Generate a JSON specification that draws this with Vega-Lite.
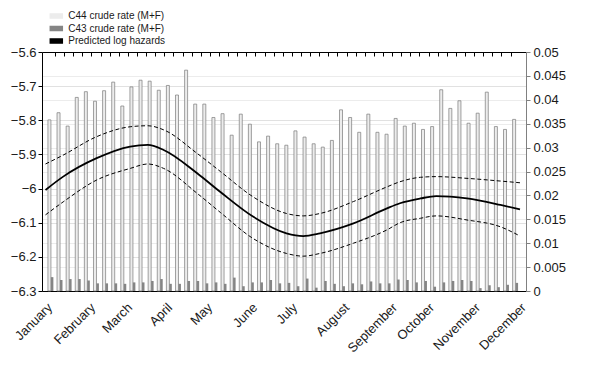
{
  "$schema": "https://vega.github.io/schema/vega-lite/v6.json",
  "width": 484,
  "height": 239,
  "autosize": {"type": "none"},
  "padding": {"left": 42, "top": 52, "right": 71, "bottom": 78},
  "background": "white",
  "config": {
    "view": {"stroke": null},
    "font": "Liberation Sans",
    "axis": {"labelFont": "Liberation Sans", "labelFontSize": 13, "labelColor": "#1a1a1a", "labelOverlap": false}
  },
  "datasets": {
    "bars": [
      {"week":1,"C44":0.0358,"C43":0.0029},{"week":2,"C44":0.0373,"C43":0.0023},{"week":3,"C44":0.0345,"C43":0.0025},{"week":4,"C44":0.0405,"C43":0.0025},
      {"week":5,"C44":0.0417,"C43":0.0022},{"week":6,"C44":0.0397,"C43":0.0016},{"week":7,"C44":0.0419,"C43":0.0016},{"week":8,"C44":0.0437,"C43":0.0016},
      {"week":9,"C44":0.0387,"C43":0.0015},{"week":10,"C44":0.0427,"C43":0.0018},{"week":11,"C44":0.0441,"C43":0.0018},{"week":12,"C44":0.0439,"C43":0.0021},
      {"week":13,"C44":0.0420,"C43":0.0025},{"week":14,"C44":0.0430,"C43":0.0015},{"week":15,"C44":0.0410,"C43":0.0015},{"week":16,"C44":0.0462,"C43":0.0021},
      {"week":17,"C44":0.0391,"C43":0.0021},{"week":18,"C44":0.0391,"C43":0.0016},{"week":19,"C44":0.0363,"C43":0.0018},{"week":20,"C44":0.0371,"C43":0.0015},
      {"week":21,"C44":0.0326,"C43":0.0028},{"week":22,"C44":0.0370,"C43":0.0010},{"week":23,"C44":0.0349,"C43":0.0018},{"week":24,"C44":0.0312,"C43":0.0018},
      {"week":25,"C44":0.0324,"C43":0.0023},{"week":26,"C44":0.0308,"C43":0.0016},{"week":27,"C44":0.0305,"C43":0.0017},{"week":28,"C44":0.0335,"C43":0.0010},
      {"week":29,"C44":0.0322,"C43":0.0026},{"week":30,"C44":0.0308,"C43":0.0007},{"week":31,"C44":0.0301,"C43":0.0021},{"week":32,"C44":0.0315,"C43":0.0015},
      {"week":33,"C44":0.0379,"C43":0.0010},{"week":34,"C44":0.0363,"C43":0.0016},{"week":35,"C44":0.0332,"C43":0.0014},{"week":36,"C44":0.0370,"C43":0.0020},
      {"week":37,"C44":0.0332,"C43":0.0016},{"week":38,"C44":0.0328,"C43":0.0016},{"week":39,"C44":0.0361,"C43":0.0024},{"week":40,"C44":0.0345,"C43":0.0023},
      {"week":41,"C44":0.0351,"C43":0.0018},{"week":42,"C44":0.0338,"C43":0.0021},{"week":43,"C44":0.0344,"C43":0.0009},{"week":44,"C44":0.0421,"C43":0.0018},
      {"week":45,"C44":0.0382,"C43":0.0021},{"week":46,"C44":0.0398,"C43":0.0023},{"week":47,"C44":0.0351,"C43":0.0021},{"week":48,"C44":0.0372,"C43":0.0006},
      {"week":49,"C44":0.0416,"C43":0.0012},{"week":50,"C44":0.0344,"C43":0.0008},{"week":51,"C44":0.0338,"C43":0.0013},{"week":52,"C44":0.0359,"C43":0.0017}
    ],
    "curve": [
      {"week":1,"est":-6.004,"lo":-6.077,"up":-5.928},
      {"week":2.9,"est":-5.965,"lo":-6.039,"up":-5.902},
      {"week":6.5,"est":-5.911,"lo":-5.975,"up":-5.848},
      {"week":10.1,"est":-5.877,"lo":-5.941,"up":-5.819},
      {"week":12,"est":-5.872,"lo":-5.928,"up":-5.816},
      {"week":13.7,"est":-5.887,"lo":-5.941,"up":-5.828},
      {"week":17.3,"est":-5.955,"lo":-6.014,"up":-5.897},
      {"week":19.8,"est":-6.010,"lo":-6.070,"up":-5.950},
      {"week":23.3,"est":-6.082,"lo":-6.146,"up":-6.024},
      {"week":26.9,"est":-6.131,"lo":-6.190,"up":-6.073},
      {"week":28.7,"est":-6.139,"lo":-6.198,"up":-6.080},
      {"week":30.5,"est":-6.131,"lo":-6.190,"up":-6.073},
      {"week":34.1,"est":-6.102,"lo":-6.160,"up":-6.038},
      {"week":37.7,"est":-6.058,"lo":-6.121,"up":-5.995},
      {"week":39.1,"est":-6.043,"lo":-6.100,"up":-5.980},
      {"week":41.3,"est":-6.029,"lo":-6.087,"up":-5.967},
      {"week":43,"est":-6.022,"lo":-6.080,"up":-5.965},
      {"week":46.3,"est":-6.029,"lo":-6.092,"up":-5.970},
      {"week":49.9,"est":-6.048,"lo":-6.112,"up":-5.978},
      {"week":52,"est":-6.061,"lo":-6.139,"up":-5.983}
    ]
  },
  "layer": [
    {
      "data": {"name": "bars"},
      "encoding": {
        "x": {"field": "week", "type": "quantitative", "title": null,
          "scale": {"domain": [0.624, 52.645], "nice": false, "zero": false},
          "axis": {"orient": "top", "tickCount": 100, "values": [1.5,2.5,3.5,4.5,5.5,6.5,7.5,8.5,9.5,10.5,11.5,12.5,13.5,14.5,15.5,16.5,17.5,18.5,19.5,20.5,21.5,22.5,23.5,24.5,25.5,26.5,27.5,28.5,29.5,30.5,31.5,32.5,33.5,34.5,35.5,36.5,37.5,38.5,39.5,40.5,41.5,42.5,43.5,44.5,45.5,46.5,47.5,48.5,49.5,50.5,51.5],
            "labels": false, "tickSize": -4, "tickColor": "#000", "domainColor": "#000", "grid": false}}
      },
      "layer": [
        {
          "mark": {"type": "bar", "width": 3, "xOffset": -1, "stroke": "#7a7a7a", "strokeWidth": 0.7},
          "encoding": {
            "y": {"field": "C44", "type": "quantitative", "title": null,
              "scale": {"domain": [0, 0.05], "nice": false, "zero": true},
              "axis": {"orient": "right", "tickCount": 100, "values": [0,0.005,0.01,0.015,0.02,0.025,0.03,0.035,0.04,0.045,0.05], "format": "~g",
                "tickSize": 4, "tickColor": "#808080", "domainColor": "#808080", "labelPadding": 3, "labelOverlap": false, "labelFlush": false,
                "grid": true, "gridColor": "#cfcfcf", "gridDash": [1, 1], "gridWidth": 0.8}},
            "color": {"datum": "C44 crude rate (M+F)", "type": "nominal",
              "scale": {"domain": ["C44 crude rate (M+F)", "C43 crude rate (M+F)", "Predicted log hazards"], "range": ["#ececec", "#858585", "#000000"]},
              "legend": {"orient": "none", "legendX": 9.3, "legendY": -41, "title": null, "padding": 0,
                "symbolType": "M-2,-0.7H2V0.7H-2Z", "symbolSize": 36, "labelFontSize": 10, "labelFont": "Liberation Sans", "labelColor": "#1a1a1a",
                "rowPadding": 0.5, "labelOffset": 7,
                "encode": {"symbols": {"update": {"fill": {"scale": "color", "field": "value"}, "stroke": {"value": "#8c8c8c"}, "strokeWidth": {"value": 0.6}, "strokeDash": {"value": []}, "opacity": {"value": 1}}}}}}
          }
        },
        {
          "mark": {"type": "bar", "width": 2.5, "xOffset": 1.7},
          "encoding": {
            "y": {"field": "C43", "type": "quantitative", "title": null,
              "axis": {"orient": "right", "tickCount": 100, "values": [0,0.005,0.01,0.015,0.02,0.025,0.03,0.035,0.04,0.045,0.05], "format": "~g",
                "tickSize": 4, "tickColor": "#808080", "domainColor": "#808080", "labelPadding": 3, "labelOverlap": false, "labelFlush": false,
                "grid": true, "gridColor": "#cfcfcf", "gridDash": [1, 1], "gridWidth": 0.8}},
            "color": {"datum": "C43 crude rate (M+F)", "type": "nominal"}
          }
        }
      ]
    },
    {
      "data": {"name": "curve"},
      "encoding": {
        "x": {"field": "week", "type": "quantitative", "title": null,
          "scale": {"domain": [0.624, 52.645], "nice": false, "zero": false},
          "axis": {"orient": "bottom", "tickCount": 100, "values": [1.45, 6.07, 10.05, 14.35, 18.65, 23.49, 27.78, 33.37, 38.53, 42.51, 47.45, 52.38],
            "labelExpr": "['January','February','March','April','May','June','July','August','September','October','November','December'][indexof([1.45, 6.07, 10.05, 14.35, 18.65, 23.49, 27.78, 33.37, 38.53, 42.51, 47.45, 52.38], datum.value)]",
            "labelAngle": -45, "labelAlign": "right", "labelBaseline": "middle", "ticks": false, "labelPadding": 14,
            "domainColor": "#000", "grid": false, "labelOverlap": false, "labelBound": false, "labelFlush": false}}
      },
      "layer": [
        {
          "mark": {"type": "line", "interpolate": "monotone", "color": "#000", "strokeWidth": 1, "strokeDash": [4, 2.5]},
          "encoding": {
            "y": {"field": "up", "type": "quantitative", "title": null,
              "scale": {"domain": [-6.3, -5.6], "nice": false, "zero": false},
              "axis": {"orient": "left", "tickCount": 100, "values": [-6.3,-6.2,-6.1,-6,-5.9,-5.8,-5.7,-5.6], "format": "~g",
                "tickSize": 4, "tickColor": "#000", "domainColor": "#000", "labelPadding": 2, "labelOverlap": false, "labelFlush": false,
                "grid": true, "gridColor": "#d9d9d9", "gridWidth": 0.8}}
          }
        },
        {
          "mark": {"type": "line", "interpolate": "monotone", "color": "#000", "strokeWidth": 1, "strokeDash": [4, 2.5]},
          "encoding": {
            "y": {"field": "lo", "type": "quantitative", "title": null,
              "axis": {"orient": "left", "tickCount": 100, "values": [-6.3,-6.2,-6.1,-6,-5.9,-5.8,-5.7,-5.6], "format": "~g",
                "tickSize": 4, "tickColor": "#000", "domainColor": "#000", "labelPadding": 2, "labelOverlap": false, "labelFlush": false,
                "grid": true, "gridColor": "#d9d9d9", "gridWidth": 0.8}}
          }
        },
        {
          "mark": {"type": "line", "interpolate": "monotone", "strokeWidth": 1.8},
          "encoding": {
            "y": {"field": "est", "type": "quantitative", "title": null,
              "axis": {"orient": "left", "tickCount": 100, "values": [-6.3,-6.2,-6.1,-6,-5.9,-5.8,-5.7,-5.6], "format": "~g",
                "tickSize": 4, "tickColor": "#000", "domainColor": "#000", "labelPadding": 2, "labelOverlap": false, "labelFlush": false,
                "grid": true, "gridColor": "#d9d9d9", "gridWidth": 0.8}},
            "color": {"datum": "Predicted log hazards", "type": "nominal"}
          }
        }
      ]
    }
  ],
  "resolve": {"scale": {"x": "independent", "y": "independent"}, "axis": {"x": "independent"}}
}
